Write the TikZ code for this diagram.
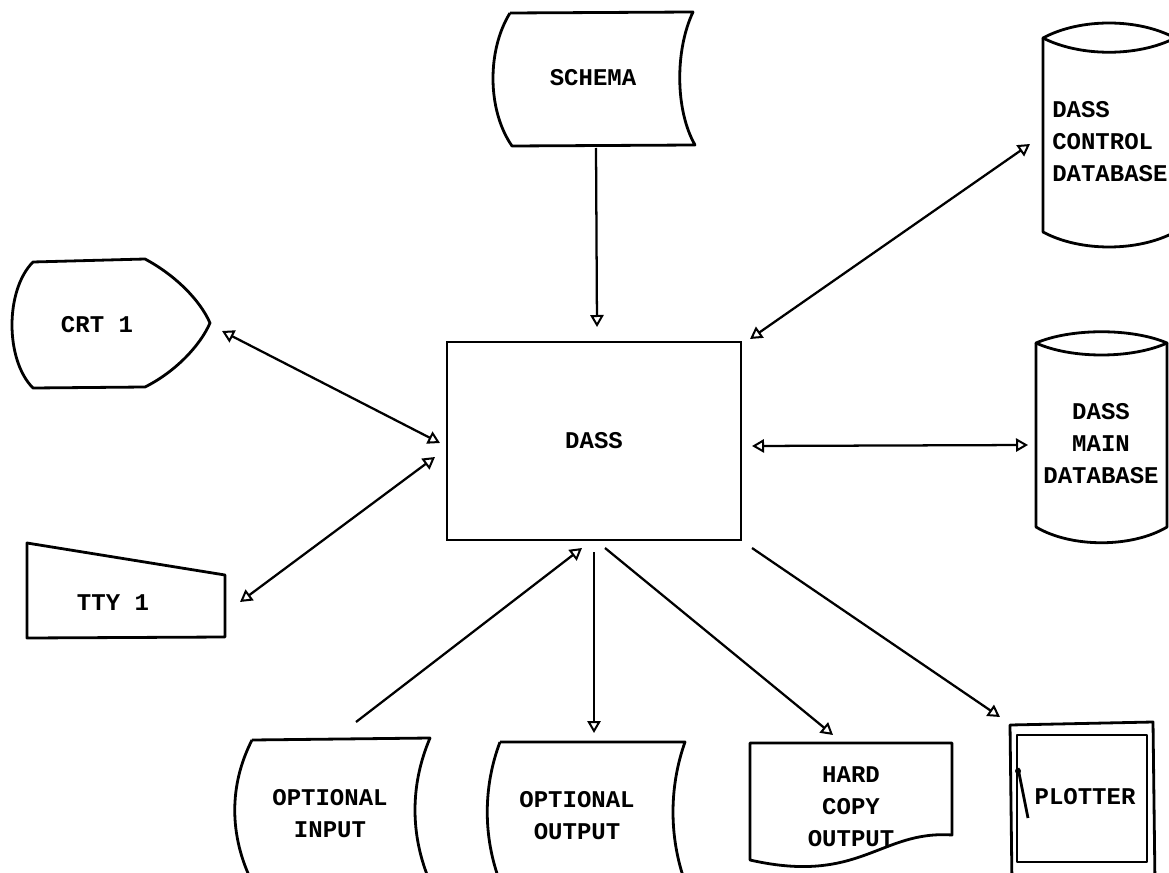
\documentclass[tikz,border=0pt]{standalone}
\usepackage{fontspec}
\setmainfont{Liberation Mono}
\usetikzlibrary{arrows.meta}
\tikzset{
  shp/.style={line width=2.1pt, line join=round},
  conn/.style={line width=1.7pt},
  otri/.tip={Triangle[open,length=9pt,width=10pt,line width=1.5pt]},
  lbl/.style={font=\fontsize{18}{24}\selectfont\bfseries, align=center, inner sep=0pt},
  boxnode/.style={draw, line width=2.1pt, minimum width=220.5pt, minimum height=148.5pt, inner sep=0pt},
}
\begin{document}
\begin{tikzpicture}[x=0.75pt,y=-0.75pt]
\useasboundingbox (0,0) rectangle (1169,873);
\fill[white] (0,0) rectangle (1169,873);

% SCHEMA (stored data)
\draw[shp] (510,13) -- (693,12) .. controls (675,50) and (675,110) .. (695,145)
  -- (512,146) .. controls (487,110) and (487,50) .. (510,13);
\node[lbl] (schema) at (593,78) {SCHEMA};

% DASS box
\node[boxnode, lbl, draw] (dass) at (594,441) {DASS};

% DASS CONTROL DATABASE
\draw[shp] (1043,38) .. controls (1080,18) and (1138,18) .. (1175,38)
  .. controls (1138,57) and (1080,57) .. (1043,38) -- cycle;
\draw[shp] (1043,38) -- (1043,232) .. controls (1080,252) and (1138,252) .. (1175,232) -- (1175,38);
\node[lbl, align=left, anchor=west] (cdb) at (1052,142) {DASS\\CONTROL\\DATABASE};

% DASS MAIN DATABASE
\draw[shp] (1036,343) .. controls (1071,328) and (1132,328) .. (1167,343)
  .. controls (1132,359) and (1071,359) .. (1036,343) -- cycle;
\draw[shp] (1036,343) -- (1036,527) .. controls (1071,548) and (1132,548) .. (1167,527) -- (1167,343);
\node[lbl] (mdb) at (1101,444) {DASS\\MAIN\\DATABASE};

% CRT 1 (display)
\draw[shp] (33,262) -- (145,259) .. controls (175,275) and (200,300) .. (210,323)
  .. controls (200,346) and (175,372) .. (145,387) -- (33,388)
  .. controls (5,360) and (5,290) .. (33,262) -- cycle;
\node[lbl] (crt) at (97,325) {CRT 1};

% TTY 1 (manual input)
\draw[shp] (27,543) -- (225,575) -- (225,637) -- (27,638) -- cycle;
\node[lbl] (tty) at (113,603) {TTY 1};

% OPTIONAL INPUT
\draw[shp] (252,740) -- (430,738) .. controls (410,785) and (410,835) .. (430,882)
  -- (252,882) .. controls (229,835) and (229,785) .. (252,740);
\node[lbl] (oin) at (330,814) {OPTIONAL\\INPUT};

% OPTIONAL OUTPUT
\draw[shp] (500,742) -- (685,742) .. controls (669,787) and (669,837) .. (685,882)
  -- (500,882) .. controls (483,837) and (483,787) .. (500,742);
\node[lbl] (oout) at (577,816) {OPTIONAL\\OUTPUT};

% HARD COPY OUTPUT (document)
\draw[shp] (750,743) -- (952,743) -- (952,835)
  .. controls (880,830) and (860,885) .. (750,860) -- cycle;
\node[lbl] (hco) at (851,807) {HARD\\COPY\\OUTPUT};

% PLOTTER
\draw[shp] (1010,725) -- (1153,722) -- (1155,885) -- (1012,885) -- cycle;
\draw[shp] (1017,735) -- (1147,735) -- (1147,862) -- (1017,862) -- cycle;
\draw[shp] (1018,768) -- (1028,818);
\fill (1018,771) circle[radius=3];
\node[lbl] (plot) at (1085,797) {PLOTTER};

% connector end points
\coordinate (schemaS) at (596,148);
\coordinate (dassN) at (597,327);
\coordinate (dassNE) at (750,339);
\coordinate (cdbW) at (1030,144);
\coordinate (crtE) at (222,331);
\coordinate (dassW1) at (440,443);
\coordinate (ttyE) at (240,602);
\coordinate (dassW2) at (435,457);
\coordinate (dassE) at (752,446);
\coordinate (mdbW) at (1028,445);
\coordinate (oinN) at (356,722);
\coordinate (dassS1) at (582,548);
\coordinate (dassS2) at (594,552);
\coordinate (ooutN) at (594,733);
\coordinate (dassS3) at (605,548);
\coordinate (hcoN) at (833,735);
\coordinate (dassSE) at (752,548);
\coordinate (plotN) at (1000,717);

\draw[conn,-otri] (schemaS) -- (dassN);
\draw[conn,otri-otri] (dassNE) -- (cdbW);
\draw[conn,otri-otri] (crtE) -- (dassW1);
\draw[conn,otri-otri] (ttyE) -- (dassW2);
\draw[conn,otri-otri] (dassE) -- (mdbW);
\draw[conn,-otri] (oinN) -- (dassS1);
\draw[conn,-otri] (dassS2) -- (ooutN);
\draw[conn,-otri] (dassS3) -- (hcoN);
\draw[conn,-otri] (dassSE) -- (plotN);
\end{tikzpicture}
\end{document}
